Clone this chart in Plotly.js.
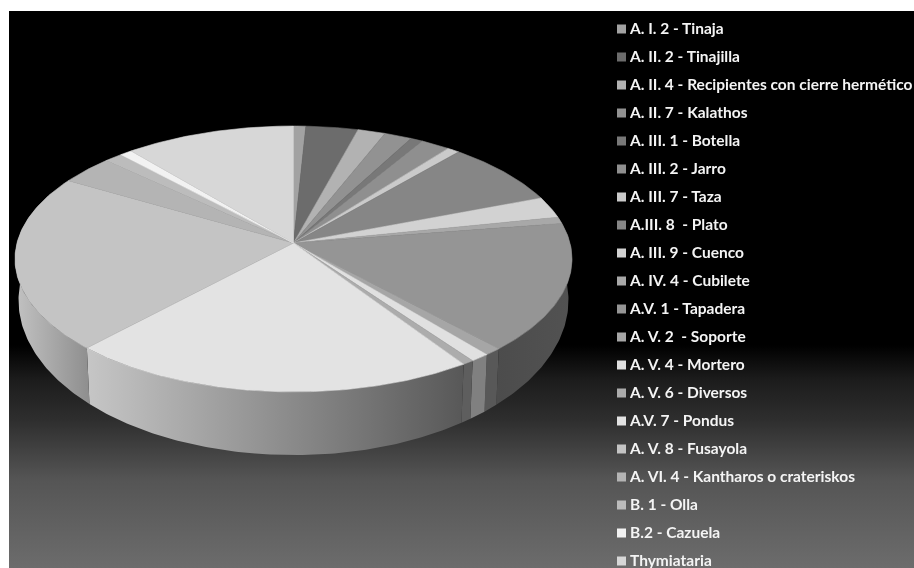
<!DOCTYPE html>
<html>
<head>
<meta charset="utf-8">
<script src="https://cdn.plot.ly/plotly-3.0.1.min.js"></script>
<style>
html,body{margin:0;padding:0;background:#fff;}
#chart{width:914px;height:568px;filter:blur(0.6px);}
</style>
</head>
<body>
<div id="chart"></div>
<script>
// ---- data (percent of the whole) ----
const categories = [
  "A. I. 2 - Tinaja","A. II. 2 - Tinajilla","A. II. 4 - Recipientes con cierre hermético",
  "A. II. 7 - Kalathos","A. III. 1 - Botella","A. III. 2 - Jarro","A. III. 7 - Taza",
  "A.III. 8  - Plato","A. III. 9 - Cuenco","A. IV. 4 - Cubilete","A.V. 1 - Tapadera",
  "A. V. 2  - Soporte","A. V. 4 - Mortero","A. V. 6 - Diversos","A.V. 7 - Pondus",
  "A. V. 8 - Fusayola","A. VI. 4 - Kantharos o crateriskos","B. 1 - Olla","B.2 - Cazuela","Thymiataria"
];
const values = [0.8,3.4,1.8,1.8,0.8,1.9,0.8,7.9,2.6,0.8,15.6,0.9,1.0,0.6,21.3,21.5,3.5,1.2,0.8,11.1];
const topColors = ["#a2a2a2","#6c6c6c","#b2b2b2","#929292","#787878","#8f8f8f","#cacaca","#868686","#d2d2d2","#a8a8a8",
  "#959595","#a6a6a6","#e0e0e0","#acacac","#e3e3e3","#c4c4c4","#b4b4b4","#bcbcbc","#f2f2f2","#d7d7d7"];
const sideLeft  = ["#555","#444","#555","#555","#444","#555","#666","#505050","#5e5e5e","#555",
  "#4c4c4c","#585858","#808080","#5e5e5e","#c6c6c6","#c2c2c2","#aaa","#aaa","#ccc","#aaa"];
const sideRight = ["#555","#444","#555","#555","#444","#555","#666","#505050","#5e5e5e","#555",
  "#525252","#585858","#808080","#5e5e5e","#585858","#8e8e8e","#aaa","#aaa","#ccc","#aaa"];

// ---- projection of the tilted disc onto the page ----
const persp = 0.12;
const upper = {cx:293.5, cy:243, A:276.5, B:131};
const lower = {cx:293.5, cy:281.5, A:273, B:152.8};
function rim(face, deg){
  const t = deg*Math.PI/180, X = Math.sin(t), Y = Math.cos(t), w = 1 + persp*Y;
  return [face.cx + face.A*X/w, face.cy - face.B*Y/w];
}
function range(a,b){ const n = Math.max(2,Math.ceil((b-a)/0.75)), o=[]; for(let i=0;i<=n;i++) o.push(a+(b-a)*i/n); return o; }

const total = values.reduce((s,v)=>s+v,0);
let run = 0;
const spans = values.map(v=>{ const a = run/total*360; run += v; return [a, run/total*360]; });

const traces = [];
// background
traces.push({
  x:[9,914,914,9,9], y:[11,11,568,568,11], mode:'lines', line:{width:0}, fill:'toself', hoverinfo:'skip',
  fillcolor:'#000',
  fillgradient:{type:'vertical', start:11, stop:568,
    colorscale:[[0,'#000'],[0.60,'#000'],[0.662,'#1c1c1c'],[0.734,'#2e2e2e'],[0.842,'#555'],[1,'#6c6c6c']]}
});
// side wall
spans.forEach((s,i)=>{
  const a = Math.max(s[0],72), b = Math.min(s[1],292);
  if(a>=b) return;
  const th = range(a,b), up = th.map(d=>rim(upper,d)), lo = th.map(d=>rim(lower,d)).reverse();
  const pts = up.concat(lo); pts.push(up[0]);
  const xs = pts.map(p=>p[0]), ys = pts.map(p=>p[1]);
  traces.push({x:xs,y:ys,mode:'lines',line:{width:0},fill:'toself',hoverinfo:'skip',
    fillcolor:sideRight[i],
    fillgradient:{type:'horizontal',start:Math.min(...xs),stop:Math.max(...xs),
      colorscale:[[0,sideLeft[i]],[1,sideRight[i]]]}});
});
// top face
spans.forEach((s,i)=>{
  const pts = [[upper.cx,upper.cy]].concat(range(s[0],s[1]).map(d=>rim(upper,d)));
  pts.push([upper.cx,upper.cy]);
  traces.push({x:pts.map(p=>p[0]),y:pts.map(p=>p[1]),mode:'lines',
    line:{width:0.6,color:topColors[i]},fill:'toself',fillcolor:topColors[i],
    name:categories[i],hoverinfo:'name'});
});
// key: swatches, then labels
traces.push({
  x:categories.map(()=>621.5), y:categories.map((c,i)=>29+28*i),
  mode:'markers', cliponaxis:false,
  marker:{symbol:'square',size:9,color:topColors,line:{width:0}},
  hoverinfo:'skip'
});
traces.push({
  x:categories.map(()=>630), y:categories.map((c,i)=>30+28*i),
  mode:'text', text:categories, textposition:'middle right', cliponaxis:false,
  textfont:{family:'Lato, sans-serif',size:15.5,color:'#f4f4f4',weight:700},
  hoverinfo:'skip'
});

Plotly.newPlot('chart',traces,{
  width:914,height:568,margin:{l:0,r:0,t:0,b:0},showlegend:false,
  paper_bgcolor:'#fff',plot_bgcolor:'#fff',
  xaxis:{range:[0,914],visible:false,fixedrange:true},
  yaxis:{range:[568,0],visible:false,fixedrange:true}
},{displayModeBar:false,staticPlot:true});
</script>
</body>
</html>
